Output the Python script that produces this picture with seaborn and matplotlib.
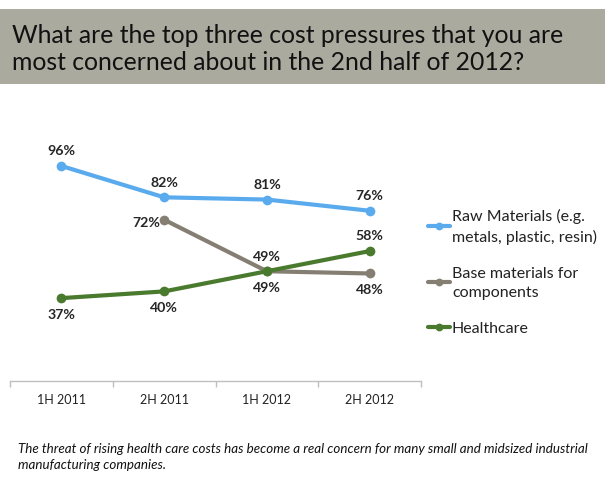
import matplotlib
matplotlib.use("Agg")
import matplotlib.pyplot as plt
import matplotlib.patches as mpatches
import seaborn as sns
import pandas as pd

periods = ["1H 2011", "2H 2011", "1H 2012", "2H 2012"]
raw_materials = [96, 82, 81, 76]
base_periods = ["2H 2011", "1H 2012", "2H 2012"]
base_materials = [72, 49, 48]
healthcare = [37, 40, 49, 58]
series_names = ["Raw Materials (e.g.\nmetals, plastic, resin)",
                "Base materials for\ncomponents",
                "Healthcare"]
title_text = "What are the top three cost pressures that you are\nmost concerned about in the 2nd half of 2012?"
footnote = ("The threat of rising health care costs has become a real concern for many small and midsized industrial\n"
            "manufacturing companies.")

colors = ["#5AABEE", "#857F73", "#4A7A2E"]

sns.set_theme(style="white")
plt.rcParams["font.family"] = ["Lato", "DejaVu Sans"]

rows = []
for p, v in zip(periods, raw_materials):
    rows.append((periods.index(p), v, series_names[0]))
for p, v in zip(base_periods, base_materials):
    rows.append((periods.index(p), v, series_names[1]))
for p, v in zip(periods, healthcare):
    rows.append((periods.index(p), v, series_names[2]))
df = pd.DataFrame(rows, columns=["x", "value", "series"])

fig = plt.figure(figsize=(6.05, 4.85), dpi=100)
fig.patch.set_facecolor("white")

# title band
fig.patches.append(mpatches.Rectangle((0, 1 - 85/485), 1, 75/485, transform=fig.transFigure,
                                      facecolor="#ABAA9E", edgecolor="none", zorder=0))
fig.text(12/605, 1 - 49/485, title_text, fontsize=17.8, color="#111111", va="center", ha="left",
         linespacing=1.25)

ax = fig.add_axes([10/605, 1 - 382/485, 411/605, 224/485])
sns.lineplot(data=df, x="x", y="value", hue="series", hue_order=series_names,
             palette=colors, marker="o", markersize=7, markeredgewidth=0,
             linewidth=3, ax=ax, legend=True)

ax.set_xlim(-0.5, 3.5)
ax.set_ylim(0, 100)
ax.set_xlabel("")
ax.set_ylabel("")
ax.set_yticks([])
ax.set_xticks(range(len(periods)))
ax.set_xticklabels(periods, fontsize=9, color="#222222")
ax.set_xticks([-0.5, 0.5, 1.5, 2.5, 3.5], minor=True)
ax.tick_params(axis="x", which="major", length=0, pad=9)
ax.tick_params(axis="x", which="minor", length=4, color="#BFBFBF", width=1, direction="out", bottom=True)
for s in ["top", "left", "right"]:
    ax.spines[s].set_visible(False)
ax.spines["bottom"].set_color("#BFBFBF")
ax.spines["bottom"].set_linewidth(1)

lab_kw = dict(fontsize=10.2, fontweight="bold", color="#262626")
# raw materials labels above
for i, v in enumerate(raw_materials):
    ax.annotate(f"{v}%", (i, v), xytext=(0, 7), textcoords="offset points", ha="center", va="bottom", **lab_kw)
# base materials
bx = [periods.index(p) for p in base_periods]
ax.annotate(f"{base_materials[0]}%", (bx[0], base_materials[0]), xytext=(-3, -2), textcoords="offset points",
            ha="right", va="center", **lab_kw)
ax.annotate(f"{base_materials[1]}%", (bx[1], base_materials[1]), xytext=(0, 7), textcoords="offset points",
            ha="center", va="bottom", **lab_kw)
ax.annotate(f"{base_materials[2]}%", (bx[2], base_materials[2]), xytext=(0, -7), textcoords="offset points",
            ha="center", va="top", **lab_kw)
# healthcare
for i, v in enumerate(healthcare):
    if i == 3:
        ax.annotate(f"{v}%", (i, v), xytext=(0, 7), textcoords="offset points", ha="center", va="bottom", **lab_kw)
    else:
        ax.annotate(f"{v}%", (i, v), xytext=(0, -7), textcoords="offset points", ha="center", va="top", **lab_kw)

handles, labels = ax.get_legend_handles_labels()
leg = ax.legend(handles, labels, loc="upper left", bbox_to_anchor=(428/605, 1 - 209/485),
                bbox_transform=fig.transFigure, frameon=False, fontsize=11.5, handlelength=1.4,
                handletextpad=0.1, labelspacing=1.4, markerscale=0.8, borderpad=0, borderaxespad=0)
for t in leg.get_texts():
    t.set_color("#222222")
    t.set_linespacing(1.45)

fig.text(18/605, 1 - 457/485, footnote, fontsize=9.6, style="italic", color="#111111",
         ha="left", va="center", linespacing=1.35)

fig.savefig("out.png", dpi=100, facecolor="white")
